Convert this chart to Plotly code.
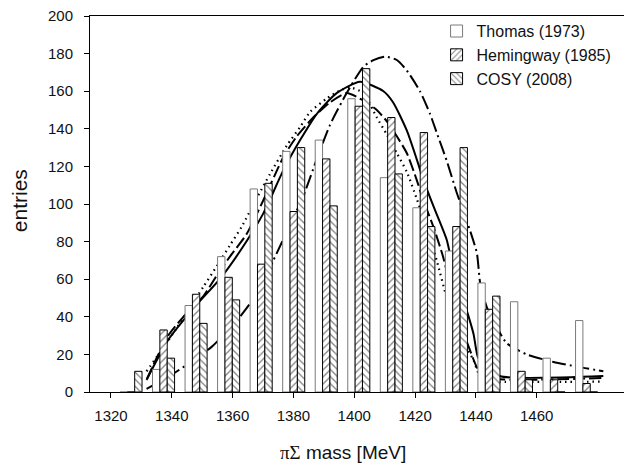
import plotly.graph_objects as go

# ---- data ----
bin_index = [0, 1, 2, 3, 4, 5, 6, 7, 8, 9, 10, 11, 12, 13, 14]
thomas = [0, 12, 46, 72, 108, 128, 134, 156, 114, 98, 75, 58, 48, 18, 38]
hemingway = [0, 33, 52, 61, 68, 96, 124, 152, 146, 138, 88, 44, 11, 6.5, 4.5]
cosy = [11, 18, 36.5, 49, 111, 130, 99, 172, 116, 88, 130, 51, 6.5, 0, 0]

dotted_mev = [1331.7, 1336.1, 1341.6, 1346.0, 1350.4, 1354.8, 1359.1, 1363.0, 1367.9, 1372.3,
              1377.8, 1382.2, 1385.5, 1390.9, 1394.8, 1398.6, 1403.0, 1407.4, 1410.7, 1414.0,
              1417.3, 1420.5, 1423.8, 1427.1, 1430.4, 1433.7, 1437.0, 1439.2, 1440.8, 1442.4,
              1445.7, 1481.9]
dotted_val = [11, 21, 34, 45, 56, 67, 78, 88, 103, 116,
              131, 141, 149, 156, 160, 162, 159, 146, 137, 127,
              117, 103, 87, 70, 50, 33, 23, 17, 10, 6,
              5.5, 5.5]

dashed_mev = [1331.8, 1338.8, 1346.0, 1350.4, 1354.8, 1359.1, 1364.6, 1370.1, 1376.7, 1381.1,
              1386.5, 1392.0, 1397.5, 1403.0, 1407.4, 1410.7, 1414.0, 1417.3, 1420.5, 1422.7,
              1426.0, 1429.2, 1431.5, 1434.8, 1438.1, 1440.7, 1444.0, 1481.9]
dashed_val = [7, 30, 44, 51, 62, 72, 84, 102, 125, 136,
              146, 154, 159, 155, 150, 144, 136, 127, 113, 102,
              88, 72, 57, 37, 22, 12, 7.5, 7.5]

solid_mev = [1331.7, 1338.8, 1347.6, 1356.4, 1364.1, 1370.1, 1376.7, 1382.2, 1387.7, 1394.2,
             1401.9, 1409.6, 1412.8, 1417.3, 1420.5, 1422.7, 1426.0, 1430.4, 1432.6, 1435.9,
             1439.2, 1440.8, 1443.6, 1445.7, 1447.9, 1481.9]
solid_val = [6.4, 27.7, 45.4, 61.3, 79, 95, 118, 134, 148, 159,
             165, 160, 154, 139, 124, 113, 99, 81, 65, 49,
             31, 18, 15, 12.6, 8.5, 8.5]

dashdot_mev = [1331.7, 1338.8, 1345.4, 1353.1, 1358.6, 1361.9, 1365.7, 1369.6, 1373.4, 1378.9,
               1383.2, 1387.7, 1392.0, 1397.5, 1403.0, 1406.3, 1410.1, 1414.0, 1417.3, 1421.6,
               1424.9, 1427.1, 1430.4, 1433.7, 1437.0, 1440.3, 1441.4, 1443.6, 1445.7, 1450.1,
               1456.7, 1465.5, 1473.2, 1481.9]
dashdot_val = [1.6, 8, 15, 24, 33, 39, 47, 57, 70, 89,
               104, 124, 142, 159, 173, 176.5, 178.4, 176.6, 171, 160,
               148, 138, 123, 106, 91, 74, 58, 45, 38, 26,
               20, 16, 13.5, 11]

x_ticks = [1320, 1340, 1360, 1380, 1400, 1420, 1440, 1460]
y_ticks = [0, 20, 40, 60, 80, 100, 120, 140, 160, 180, 200]

FONT = "Liberation Sans, Arial, sans-serif"

fig = go.Figure()

fig.add_trace(go.Bar(
    x=bin_index, y=thomas, name="Thomas (1973)", xaxis="x2",
    marker=dict(color="white", line=dict(color="#7a7a7a", width=1)),
))
fig.add_trace(go.Bar(
    x=bin_index, y=hemingway, name="Hemingway (1985)", xaxis="x2",
    marker=dict(color="white", line=dict(color="black", width=1),
                pattern=dict(shape="/", fgcolor="black", bgcolor="white",
                             size=5, solidity=0.25, fillmode="overlay")),
))
fig.add_trace(go.Bar(
    x=bin_index, y=cosy, name="COSY (2008)", xaxis="x2",
    marker=dict(color="white", line=dict(color="black", width=1),
                pattern=dict(shape="\\", fgcolor="black", bgcolor="white",
                             size=5, solidity=0.25, fillmode="overlay")),
))

line_common = dict(shape="spline", smoothing=0.6)
fig.add_trace(go.Scatter(x=dotted_mev, y=dotted_val, mode="lines", showlegend=False,
                         line=dict(color="black", width=2.2, dash="1.5px,4px", **line_common)))
fig.add_trace(go.Scatter(x=dashed_mev, y=dashed_val, mode="lines", showlegend=False,
                         line=dict(color="black", width=2, dash="12px,4px", **line_common)))
fig.add_trace(go.Scatter(x=solid_mev, y=solid_val, mode="lines", showlegend=False,
                         line=dict(color="black", width=2, **line_common)))
fig.add_trace(go.Scatter(x=dashdot_mev, y=dashdot_val, mode="lines", showlegend=False,
                         line=dict(color="black", width=2, dash="14px,4px,2px,4px", **line_common)))

fig.update_layout(
    width=624, height=468,
    margin=dict(l=90, r=0, t=16, b=76),
    paper_bgcolor="white", plot_bgcolor="white",
    font=dict(family=FONT, color="#111", size=15),
    barmode="group", bargap=0.322, bargroupgap=0,
    xaxis=dict(range=[1313.1, 1488.7], tickvals=x_ticks, ticks="outside", ticklen=5,
               tickcolor="black", showline=True, linecolor="black", linewidth=1,
               mirror=True, showgrid=False, zeroline=False, ticklabelstandoff=5,
               tickfont=dict(size=15, family=FONT, color="#111")),
    xaxis2=dict(range=[-1.26, 15.15], overlaying="x", anchor="y", visible=False,
                showgrid=False, zeroline=False),
    yaxis=dict(range=[0, 200], tickvals=y_ticks, ticks="outside", ticklen=5,
               tickcolor="black", showline=True, linecolor="black", linewidth=1,
               showgrid=False, zeroline=False, ticklabelstandoff=8,
               tickfont=dict(size=15, family=FONT, color="#111")),
    legend=dict(x=0.649, y=1.005, xanchor="left", yanchor="top",
                bgcolor="rgba(0,0,0,0)", font=dict(size=16, family=FONT, color="#111"),
                traceorder="normal"),
    showlegend=True,
)

fig.add_annotation(text="entries", xref="paper", yref="paper", x=-0.133, y=0.51,
                   textangle=-90, showarrow=False, font=dict(size=21, family=FONT, color="#111"),
                   xanchor="center", yanchor="middle")
fig.add_annotation(text='<span style="font-family:Liberation Serif">πΣ</span> mass [MeV]',
                   xref="paper", yref="paper", x=0.474, y=-0.16, showarrow=False,
                   font=dict(size=19, family=FONT, color="#111"),
                   xanchor="center", yanchor="middle")

fig.write_html("out.html", config={"displayModeBar": False},
               post_script="document.body.style.margin='0px';document.body.style.padding='0px';")
